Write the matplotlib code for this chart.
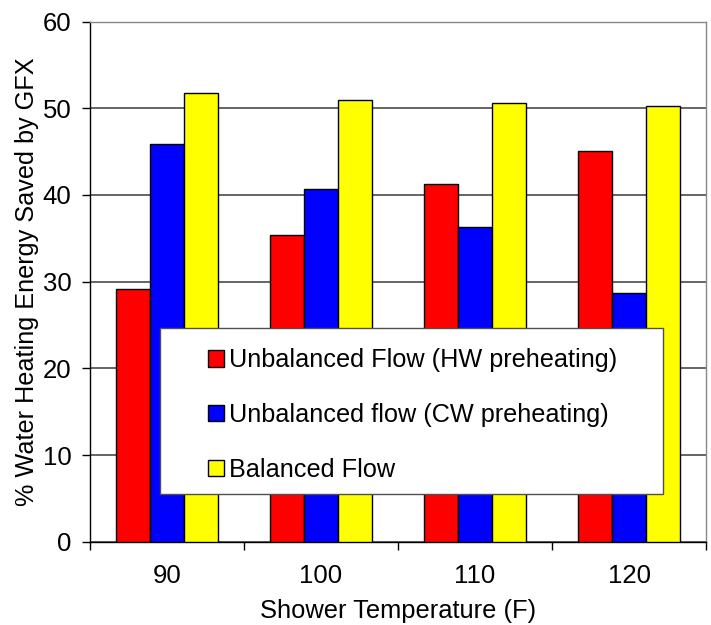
import matplotlib
matplotlib.use("Agg")
import matplotlib.pyplot as plt
from matplotlib.patches import Rectangle
import numpy as np

plt.rcParams['font.family'] = ['Liberation Sans', 'DejaVu Sans']

categories = ["90", "100", "110", "120"]
hw_preheat = [29.1, 35.4, 41.3, 45.1]
cw_preheat = [45.9, 40.7, 36.3, 28.7]
balanced = [51.7, 51.0, 50.6, 50.3]
series_labels = ["Unbalanced Flow (HW preheating)",
                 "Unbalanced flow (CW preheating)",
                 "Balanced Flow"]
colors = ["#FF0000", "#0000FF", "#FFFF00"]

fig = plt.figure(figsize=(7.11, 6.25), dpi=100)
ax = fig.add_axes([90/711, 1-541.8/625, 616/711, 520.3/625])

x = np.arange(len(categories))
w = 0.2227
handles = []
for i, (vals, lab, c) in enumerate(zip([hw_preheat, cw_preheat, balanced], series_labels, colors)):
    b = ax.bar(x + (i - 1) * w, vals, w, color=c, edgecolor='black', linewidth=1.0,
               label=lab, zorder=3)
    handles.append(b)

ax.set_xlim(-0.5, 3.5)
ax.set_ylim(0, 60)
ax.set_yticks(np.arange(0, 61, 10))
ax.yaxis.grid(True, color='#3a3a3a', linewidth=1.1, zorder=0)
ax.set_axisbelow(True)

ax.set_xticks(np.arange(-0.5, 3.6, 1.0))
ax.set_xticklabels([])
ax.set_xticks(x, minor=True)
ax.set_xticklabels(categories, minor=True)
ax.tick_params(axis='x', which='major', direction='out', length=5.8, width=1.0, color='black')
ax.tick_params(axis='x', which='minor', length=0, pad=16.0, labelsize=18.5)
ax.tick_params(axis='y', direction='out', length=5.8, width=1.0, color='black', pad=7.5, labelsize=18.5)

for s in ['left', 'bottom']:
    ax.spines[s].set_color('black')
    ax.spines[s].set_linewidth(1.0)
for s in ['top', 'right']:
    ax.spines[s].set_color('#888888')
    ax.spines[s].set_linewidth(1.0)

ax.set_ylabel("% Water Heating Energy Saved by GFX", fontsize=18.2)
ax.yaxis.set_label_coords(-0.083, 0.5)
ax.set_xlabel("Shower Temperature (F)", fontsize=18.4)
ax.xaxis.set_label_coords(0.5, -0.11)

# legend box
box = Rectangle((70/616, (541.8-494)/520.3), 503/616, 166/520.3,
                transform=ax.transAxes, facecolor='white', edgecolor='#505050',
                linewidth=1.0, zorder=5, clip_on=False)
ax.add_patch(box)
leg = ax.legend(handles=handles, loc='center left',
                bbox_to_anchor=((208-90)/616, (541.8-415.0)/520.3),
                frameon=False, fontsize=18.2, handlelength=0.63, handleheight=0.63,
                handletextpad=0.22, labelspacing=1.22, borderpad=0, borderaxespad=0)
leg.set_zorder(6)

fig.savefig("out.png", dpi=100)
